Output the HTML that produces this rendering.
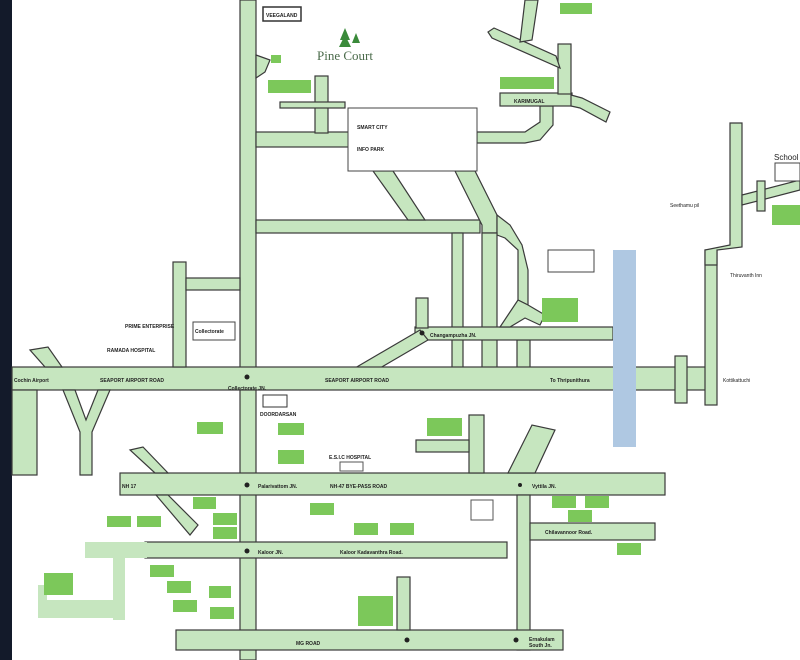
<!DOCTYPE html>
<html><head><meta charset="utf-8"><style>
html,body{margin:0;padding:0;background:#fff}
svg{display:block}
text{font-family:"Liberation Sans",sans-serif;font-weight:bold;fill:#222}
</style></head><body>
<svg width="800" height="660" viewBox="0 0 800 660" xmlns="http://www.w3.org/2000/svg">
<rect width="800" height="660" fill="#fff"/>
<rect x="0" y="0" width="12" height="660" fill="#131a2a"/>
<g fill="#c6e6bf" stroke="#3a3a3a" stroke-width="1.2">
<!-- main vertical -->
<rect x="240" y="0" width="16" height="660"/>
<!-- top roads -->
<polygon points="256,55 270,60 265,72 256,78"/>
<rect x="256" y="132" width="95" height="15"/>
<rect x="315" y="76" width="13" height="57"/>
<rect x="280" y="102" width="65" height="6"/>
<rect x="256" y="220" width="224" height="13"/>
<polygon points="373,171 393,171 425,220 408,220"/>
<polygon points="455,171 475,171 497,215 497,233 482,233 482,225"/>
<polygon points="497,215 510,225 522,245 528,270 528,305 518,300 518,250 505,238 497,235"/>
<!-- karimbusal -->
<polygon points="477,132 525,132 540,122 540,106 553,106 553,125 540,140 525,143 477,143"/>
<rect x="500" y="93" width="72" height="13"/>
<rect x="558" y="44" width="13" height="50"/>
<polygon points="571,95 582,98 610,112 606,122 580,108 571,106"/>
<polygon points="488,32 492,38 560,68 556,56 494,28"/>
<polygon points="525,0 538,0 532,40 520,42"/>
<!-- verticals under 220 -->
<rect x="452" y="233" width="11" height="135"/>
<rect x="482" y="233" width="15" height="135"/>
<rect x="517" y="340" width="13" height="28"/>
<rect x="415" y="327" width="198" height="13"/>
<rect x="416" y="298" width="12" height="30"/>
<polygon points="420,330 428,340 380,368 355,368"/>
<polygon points="518,300 528,305 545,315 540,325 525,318 510,327 500,327"/>
<!-- seaport road -->
<rect x="12" y="367" width="695" height="23"/>
<rect x="675" y="356" width="12" height="47"/>
<rect x="705" y="250" width="12" height="155"/>
<polygon points="730,123 742,123 742,247 717,250 717,265 705,265 705,250 730,245"/>
<polygon points="742,195 800,180 800,190 742,205"/>
<rect x="757" y="181" width="8" height="30"/>
<polygon points="30,350 48,347 62,367 45,367"/>
<!-- left Y -->
<rect x="12" y="390" width="25" height="85"/>
<polygon points="63,390 75,390 86,420 98,390 110,390 92,432 92,475 80,475 80,432"/>
<rect x="173" y="262" width="13" height="105"/>
<rect x="186" y="278" width="54" height="12"/>
<!-- NH17 -->
<rect x="120" y="473" width="545" height="22"/>
<polygon points="130,450 143,447 168,473 155,473"/>
<polygon points="156,495 168,495 198,525 190,535"/>
<rect x="469" y="415" width="15" height="58"/>
<rect x="416" y="440" width="53" height="12"/>
<polygon points="508,473 532,425 555,430 535,473"/>
<!-- below NH17 -->
<rect x="517" y="495" width="13" height="155"/>
<rect x="530" y="523" width="125" height="17"/>
<rect x="145" y="542" width="362" height="16"/>
<rect x="176" y="630" width="387" height="20"/>
<rect x="397" y="577" width="13" height="53"/>
</g>
<g fill="#c6e6bf">
<rect x="85" y="542" width="62" height="16"/>
<rect x="113" y="558" width="12" height="62"/>
<rect x="38" y="600" width="87" height="18"/>
<rect x="38" y="585" width="9" height="17"/>
</g>
<!-- buildings -->
<rect x="348" y="108" width="129" height="63" fill="#fff" stroke="#444"/>
<rect x="263" y="7" width="38" height="14" fill="#fff" stroke="#333" stroke-width="1.5"/>
<rect x="548" y="250" width="46" height="22" fill="#fff" stroke="#444"/>
<rect x="193" y="322" width="42" height="18" fill="#fff" stroke="#444"/>
<rect x="263" y="395" width="24" height="12" fill="#fff" stroke="#333"/>
<rect x="340" y="462" width="23" height="9" fill="#fff" stroke="#555"/>
<rect x="471" y="500" width="22" height="20" fill="#fff" stroke="#555"/>
<rect x="775" y="163" width="25" height="18" fill="#fff" stroke="#444"/>
<rect x="613" y="250" width="23" height="197" fill="#afc8e2"/>
<!-- green labels -->
<g fill="#7cc85a">
<rect x="560" y="3" width="32" height="11"/><rect x="268" y="80" width="43" height="13"/>
<rect x="500" y="77" width="54" height="12"/><rect x="542" y="298" width="36" height="24"/>
<rect x="772" y="205" width="28" height="20"/><rect x="271" y="55" width="10" height="8"/>
<rect x="197" y="422" width="26" height="12"/><rect x="278" y="423" width="26" height="12"/>
<rect x="278" y="450" width="26" height="14"/><rect x="427" y="418" width="35" height="18"/>
<rect x="107" y="516" width="24" height="11"/><rect x="137" y="516" width="24" height="11"/>
<rect x="193" y="497" width="23" height="12"/><rect x="213" y="513" width="24" height="12"/>
<rect x="213" y="527" width="24" height="12"/><rect x="310" y="503" width="24" height="12"/>
<rect x="354" y="523" width="24" height="12"/><rect x="390" y="523" width="24" height="12"/>
<rect x="552" y="496" width="24" height="12"/><rect x="585" y="496" width="24" height="12"/>
<rect x="568" y="510" width="24" height="12"/><rect x="617" y="543" width="24" height="12"/>
<rect x="150" y="565" width="24" height="12"/><rect x="167" y="581" width="24" height="12"/>
<rect x="209" y="586" width="22" height="12"/><rect x="173" y="600" width="24" height="12"/>
<rect x="210" y="607" width="24" height="12"/><rect x="44" y="573" width="29" height="22"/>
<rect x="358" y="596" width="35" height="30"/>
</g>
<!-- pine court logo -->
<path d="M345 28 l-5 12 h10 z M345 35 l-6 12 h12 z M356 33 l-4 10 h8 z" fill="#3a8a3a"/>
<text x="317" y="60" font-size="13" style="font-family:'Liberation Serif',serif;font-weight:normal;fill:#4a6a4a">Pine Court</text>
<g font-size="5">
<text x="266" y="17">VEEGALAND</text>
<text x="357" y="129">SMART CITY</text><text x="357" y="151">INFO PARK</text>
<text x="514" y="103">KARIMUGAL</text>
<text x="100" y="382">SEAPORT AIRPORT ROAD</text>
<text x="325" y="382">SEAPORT AIRPORT ROAD</text>
<text x="550" y="382">To Thripunithura</text>
<text x="228" y="390">Collectorate JN.</text>
<text x="260" y="416">DOORDARSAN</text>
<text x="329" y="459">E.S.I.C HOSPITAL</text>
<text x="122" y="488">NH 17</text>
<text x="258" y="488">Palarivattom JN.</text>
<text x="330" y="488">NH-47 BYE-PASS ROAD</text>
<text x="532" y="488">Vyttila JN.</text>
<text x="258" y="554">Kaloor JN.</text>
<text x="340" y="554">Kaloor Kadavanthra Road.</text>
<text x="545" y="534">Chilavannoor Road.</text>
<text x="296" y="645">MG ROAD</text>
<text x="529" y="641">Ernakulam</text><text x="529" y="647">South Jn.</text>
<text x="430" y="337">Changampuzha JN.</text>
<text x="195" y="333">Collectorate</text>
<text x="125" y="328">PRIME ENTERPRISE</text>
<text x="107" y="352">RAMADA HOSPITAL</text>
<text x="14" y="382">Cochin Airport</text>
<text x="670" y="207" style="font-weight:normal">Seethamu pil</text>
<text x="730" y="277" style="font-weight:normal">Thiruvanth Inn</text>
<text x="723" y="382" style="font-weight:normal">Kottikattuchi</text>
<text x="774" y="160" font-size="8" style="font-weight:normal">School</text>
</g>
<g fill="#fff"><circle cx="422" cy="333" r="2.5" fill="#222"/><circle cx="247" cy="377" r="2.5" fill="#222"/><circle cx="247" cy="485" r="2.5" fill="#222"/><circle cx="247" cy="551" r="2.5" fill="#222"/><circle cx="520" cy="485" r="2" fill="#222"/><circle cx="407" cy="640" r="2.5" fill="#222"/><circle cx="516" cy="640" r="2.5" fill="#222"/></g>
</svg>
</body></html>
